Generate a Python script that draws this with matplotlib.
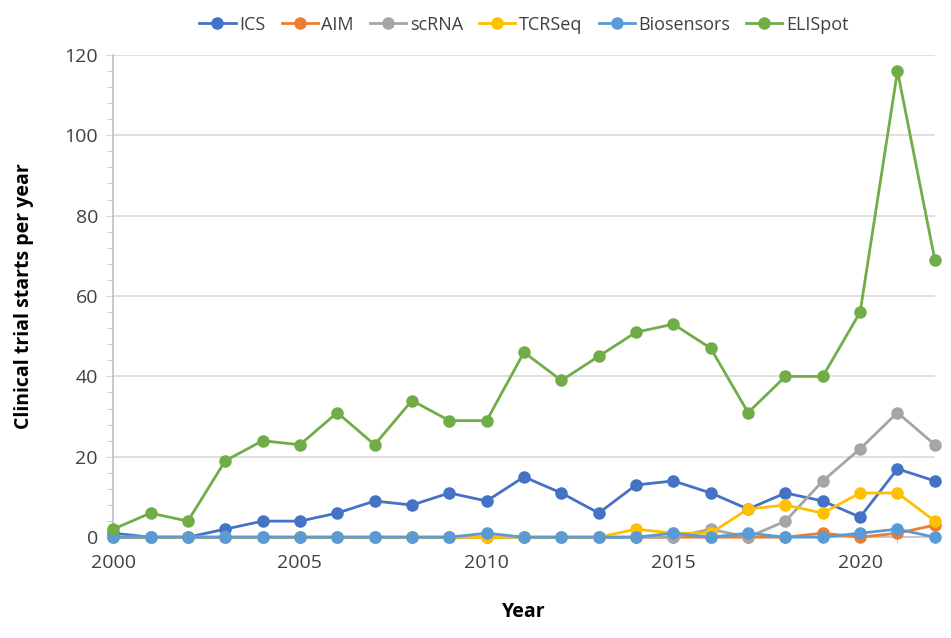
import numpy as np
from matplotlib import pyplot as plt
from matplotlib.ticker import MultipleLocator

plt.rcParams['font.family'] = ['Open Sans', 'DejaVu Sans']

years = list(range(2000, 2023))

ics = [1, 0, 0, 2, 4, 4, 6, 9, 8, 11, 9, 15, 11, 6, 13, 14, 11, 7, 11, 9, 5, 17, 14]
aim = [0, 0, 0, 0, 0, 0, 0, 0, 0, 0, 0, 0, 0, 0, 0, 0, 0, 0, 0, 1, 0, 1, 3]
scrna = [0, 0, 0, 0, 0, 0, 0, 0, 0, 0, 0, 0, 0, 0, 0, 0, 2, 0, 4, 14, 22, 31, 23]
tcrseq = [0, 0, 0, 0, 0, 0, 0, 0, 0, 0, 0, 0, 0, 0, 2, 1, 1, 7, 8, 6, 11, 11, 4]
biosensors = [0, 0, 0, 0, 0, 0, 0, 0, 0, 0, 1, 0, 0, 0, 0, 1, 0, 1, 0, 0, 1, 2, 0]
elispot = [2, 6, 4, 19, 24, 23, 31, 23, 34, 29, 29, 46, 39, 45, 51, 53, 47, 31, 40, 40, 56, 116, 69]

series = [
    ('ICS', ics, '#4472C4'),
    ('AIM', aim, '#ED7D31'),
    ('scRNA', scrna, '#A5A5A5'),
    ('TCRSeq', tcrseq, '#FFC000'),
    ('Biosensors', biosensors, '#5B9BD5'),
    ('ELISpot', elispot, '#70AD47'),
]

fig = plt.figure(figsize=(9.51, 6.38), dpi=100)
ax = fig.add_axes([0.119, 0.158, 0.864, 0.756])

for name, vals, col in series:
    ax.plot(years, vals, '-o', color=col, label=name, linewidth=2.0,
            markersize=8, clip_on=False, zorder=3)

ax.set_xlim(2000, 2022)
ax.set_ylim(0, 120)
ax.yaxis.set_major_locator(MultipleLocator(20))
ax.yaxis.set_minor_locator(MultipleLocator(4))
ax.xaxis.set_major_locator(MultipleLocator(5))
ax.xaxis.set_minor_locator(MultipleLocator(1))
ax.grid(axis='y', color='#D9D9D9', linewidth=1.2, zorder=0)

for s in ['top', 'right']:
    ax.spines[s].set_visible(False)
for s in ['left', 'bottom']:
    ax.spines[s].set_color('#BFBFBF')
    ax.spines[s].set_linewidth(1.2)

ax.tick_params(axis='y', which='major', length=5, color='#D9D9D9',
               labelsize=14, labelcolor='#404040', pad=6)
ax.tick_params(axis='y', which='minor', length=4, color='#BFBFBF')
ax.tick_params(axis='x', which='both', length=4, color='#BFBFBF',
               labelsize=14, labelcolor='#404040', pad=8)

ax.set_xlabel('Year', fontsize=14, fontweight='bold', labelpad=22)
ax.set_ylabel('Clinical trial starts per year', fontsize=14,
              fontweight='bold', labelpad=22)

ax.legend(loc='upper center', bbox_to_anchor=(0.5, 1.115), ncol=6,
          frameon=False, fontsize=13, handlelength=2.0, handletextpad=0.2,
          columnspacing=0.9, labelcolor='#404040')

fig.savefig('out.png', dpi=100)
